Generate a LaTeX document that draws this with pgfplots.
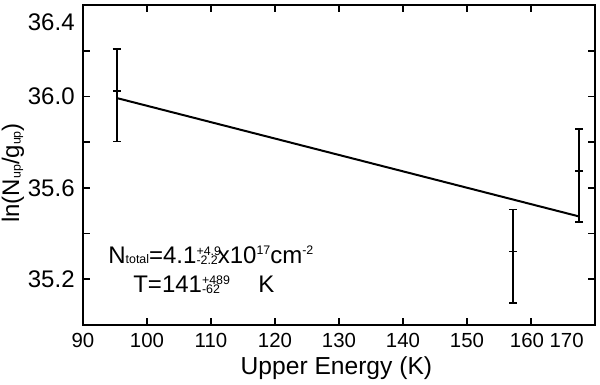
\documentclass[border=0pt]{standalone}
\usepackage{pgfplots}
\pgfplotsset{compat=1.18}
\usepackage{fontspec}
\setmainfont{Liberation Sans}
\newcommand\sm{\fontsize{6.2}{6.5}\selectfont}
\newcommand\ud[2]{\rlap{\raisebox{4pt}{\sm #1}}\raisebox{-0.6pt}{\sm #2}}
\newcommand\lsub[1]{\raisebox{-0.8pt}{\sm #1}}
\newcommand\lsup[1]{\raisebox{4.4pt}{\sm #1}}
\begin{document}
\fontsize{12}{14}\selectfont
\begin{tikzpicture}
\begin{axis}[name=ax, scale only axis, width=256pt, height=160pt,
  xmin=90, xmax=170, ymin=35.0, ymax=36.4,
  xtick={90,100,...,170}, xticklabels={90,100,110,120,130,140,150,{},{}},
  ytick={35.2,35.6,36.0}, yticklabels={35.2,35.6,36.0},
  minor ytick={35.4,35.8,36.2},
  tick align=inside, xtick pos=both, ytick pos=both,
  xticklabel pos=lower, yticklabel pos=left,
  major tick length=3.5pt, minor tick length=3.5pt,
  tick style={line width=0.9pt, black},
  axis line style={line width=1.3pt},
  /pgf/number format/assume math mode=true,
  xticklabel style={font=\fontsize{10.2}{12}\selectfont},
  yticklabel style={font=\fontsize{12}{14}\selectfont},
  xlabel={Upper Energy (K)},
  ylabel={ln(N\lsub{up}/g\lsub{up})},
  xlabel style={font=\fontsize{12.3}{14}\selectfont, at={(axis description cs:0.495,-0.134)}, anchor=center},
  ylabel style={font=\fontsize{12}{14}\selectfont, at={(axis description cs:-0.137,0.475)}, anchor=center},
  clip=false,
]
\addplot[black, line width=1pt] coordinates {(95.27,35.993) (167.5,35.475)};
\addplot[black, only marks, mark=-, mark size=2pt, mark options={line width=0.9pt},
  error bars/.cd, y dir=both, y explicit,
  error bar style={line width=0.9pt},
  error mark=|, error mark options={line width=0.9pt, mark size=2pt}]
  table[x=x, y=y, y error plus=ep, y error minus=em] {
x y ep em
95.27 36.025 0.184 0.222
157.18 35.322 0.183 0.225
167.5 35.672 0.184 0.222
};
\node[anchor=north, inner sep=0.333em, xshift=-2pt, font=\fontsize{10.2}{12}\selectfont] at (axis cs:160,35.0) {160};
\node[anchor=north east, inner sep=0.333em, xshift=-1.5pt, font=\fontsize{10.2}{12}\selectfont] at (axis description cs:1,0) {170};
\node[anchor=east, inner sep=0.333em] at (axis description cs:0,0.947) {36.4};
\node[anchor=base west, inner sep=0pt] at (axis cs:93.9,35.269) {N{\sm total}=4.1\ud{+4.9}{-2.2}x10\lsup{17}cm\lsup{-2}};
\node[anchor=base west, inner sep=0pt] at (axis cs:97.8,35.142) {T=141\ud{+489}{-62}\hspace{1.6em}K};
\end{axis}
\pgfresetboundingbox
\path ([shift={(-41.5pt,-29.5pt)}]ax.south west) rectangle ([shift={(2.5pt,2.5pt)}]ax.north east);
\end{tikzpicture}
\end{document}
